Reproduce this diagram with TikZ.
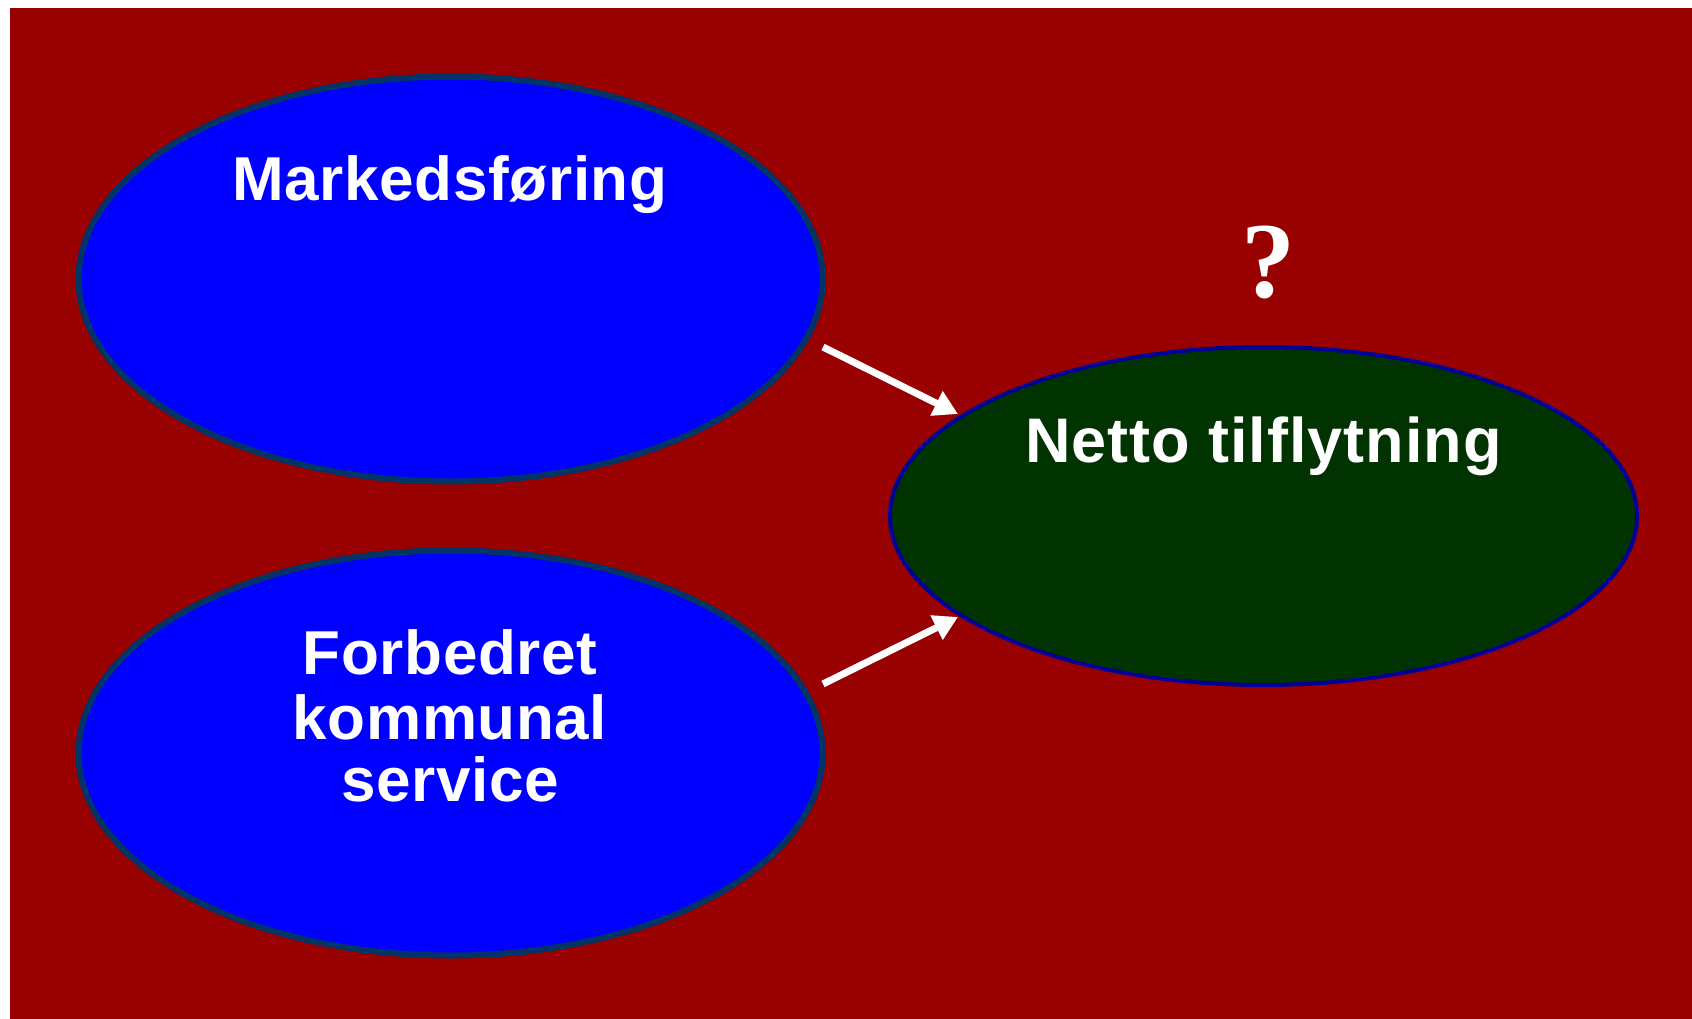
\documentclass[tikz,border=0pt]{standalone}
\usepackage{fontspec}
\setmainfont{Liberation Sans}[LetterSpace=1.0]
\newfontfamily\nettofont{Liberation Sans}[LetterSpace=1.5]
\newfontfamily\qfont{Liberation Serif}
\usetikzlibrary{shapes.geometric,arrows.meta}
\definecolor{bgred}{HTML}{990000}
\definecolor{blueell}{HTML}{0000FF}
\definecolor{blueedge}{HTML}{003366}
\definecolor{greenell}{HTML}{003300}
\definecolor{greenedge}{HTML}{000099}
\tikzset{
  ellnode/.style={ellipse, inner sep=0pt, outer sep=0pt},
  bluebub/.style={ellnode, fill=blueell, draw=blueedge, line width=6pt, minimum width=744pt, minimum height=405pt},
  greenbub/.style={ellnode, fill=greenell, draw=greenedge, line width=4pt, minimum width=747pt, minimum height=338pt},
  lbl/.style={text=white, font=\bfseries\fontsize{62}{64}\selectfont, anchor=base, inner sep=0pt},
  arr/.style={white, line width=7pt, -{Triangle[length=24pt,width=26pt]}}
}
\begin{document}
\begin{tikzpicture}[x=1pt,y=-1pt]
\useasboundingbox (0,0) rectangle (1692,1019);
\fill[white] (0,0) rectangle (1692,1019);
\fill[bgred] (10,8) rectangle (1692,1019);
\node[bluebub] (m) at (450.6,279) {};
\node[bluebub] (f) at (450.6,753) {};
\node[greenbub] (n) at (1263.5,516) {};
\node[lbl] (mt) at (450,201) {Markedsføring};
\node[lbl, font=\nettofont\bfseries\fontsize{63}{65}\selectfont] (nt) at (1263.5,462) {Netto tilflytning};
\node[lbl] (ft1) at (450,674) {Forbedret};
\node[lbl] (ft2) at (450,739) {kommunal};
\node[lbl] (ft3) at (450,801) {service};
\node[text=white, font=\qfont\bfseries\fontsize{108}{110}\selectfont, anchor=base, inner sep=0pt] (q) at (1268,297) {?};
\coordinate (a1s) at (823,347);
\coordinate (a1e) at (958,414);
\coordinate (a2s) at (823,684);
\coordinate (a2e) at (958,617);
\draw[arr] (a1s) -- (a1e);
\draw[arr] (a2s) -- (a2e);
\end{tikzpicture}
\end{document}
